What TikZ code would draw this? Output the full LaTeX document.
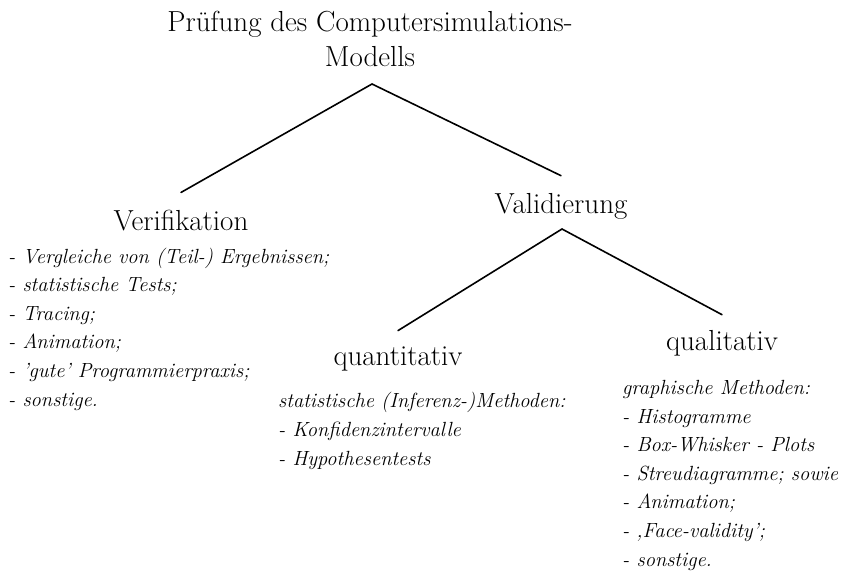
\documentclass[tikz,border=0pt]{standalone}
\usepackage{tikz}
\usetikzlibrary{positioning}

\begin{document}
\begin{tikzpicture}[
  x=1pt, y=-1pt,
  head/.style={inner sep=0pt, anchor=base, font=\fontsize{29}{35}\selectfont},
  items/.style={inner sep=0pt, anchor=base west, align=left,
                font=\fontsize{20.5}{28.6}\selectfont\itshape},
  branch/.style={line width=1.6pt, line cap=round},
]
\useasboundingbox (0,0) rectangle (847,581);

% ---------- root ----------
\node[inner sep=0pt, anchor=north, align=center,
      font=\fontsize{29}{35}\selectfont] (root) at (370,11)
      {Prüfung des Computersimulations-\\Modells};

% ---------- first level ----------
\node[head] (verif) at (181,230) {Verifikation};
\node[head] (valid) at (561,213) {Validierung};

% ---------- second level ----------
\node[head] (quant) at (398,365) {quantitativ};
\node[head] (qual)  at (722,350) {qualitativ};

% ---------- lists (anchored at their last line) ----------
\node[items] (veriflist) at (8,406)
  {- Vergleiche von (Teil-) Ergebnissen;\\- statistische Tests;\\- Tracing;\\
   - Animation;\\- 'gute' Programmierpraxis;\\- sonstige.};
\node[items] (quantlist) at (278,465)
  {statistische (Inferenz-)Methoden:\\- Konfidenzintervalle\\- Hypothesentests};
\node[items] (quallist) at (622,566)
  {graphische Methoden:\\- Histogramme\\- Box-Whisker - Plots\\
   - Streudiagramme; sowie\\- Animation;\\- ‚Face-validity’;\\- sonstige.};

% ---------- branches ----------
\coordinate (apexTop) at (372,84);
\coordinate (apexVal) at (562,229);
\draw[branch] ([yshift=17pt]verif.north) -- (apexTop) -- ([yshift=17pt]valid.north);
\draw[branch] ([yshift=15.5pt]quant.north) -- (apexVal) -- ([yshift=15pt]qual.north);

\end{tikzpicture}
\end{document}
